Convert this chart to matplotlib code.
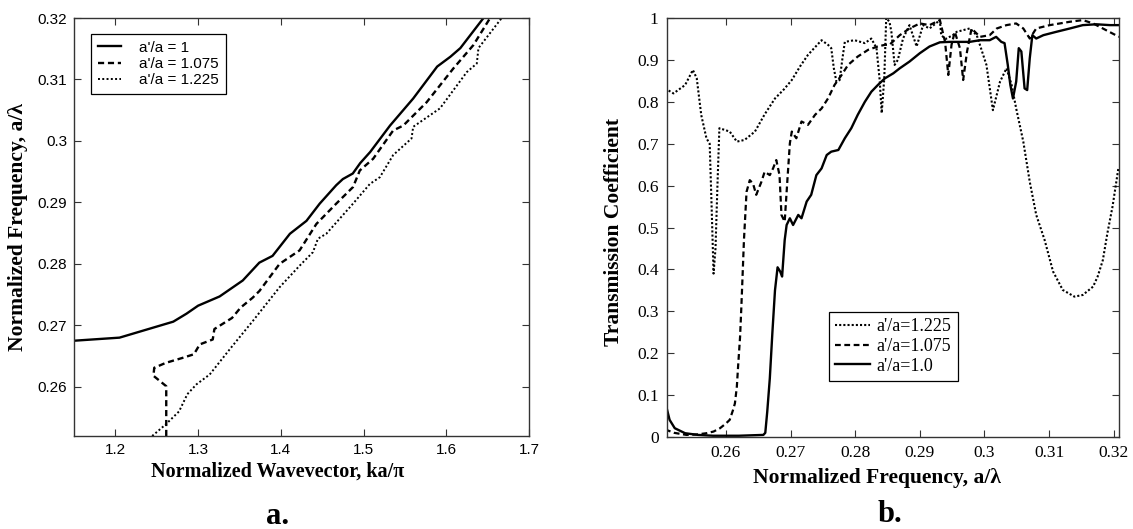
import numpy as np
import matplotlib.pyplot as plt

# ---- panel a: dispersion curves (normalized wavevector vs frequency) ----
k_10 = [1.15, 1.205, 1.27, 1.286, 1.30, 1.326, 1.354, 1.374, 1.390, 1.411,
        1.431, 1.447, 1.467, 1.475, 1.487, 1.496, 1.508, 1.532, 1.560, 1.589,
        1.605, 1.617, 1.629, 1.645]
f_10 = [0.2675, 0.268, 0.2706, 0.2719, 0.2732, 0.2747, 0.2773, 0.2802, 0.2813, 0.2849,
        0.2870, 0.2898, 0.2928, 0.2938, 0.2947, 0.2964, 0.2982, 0.3025, 0.3069, 0.3121,
        0.3137, 0.3151, 0.3172, 0.32]

k_1075 = [1.2615, 1.2615, 1.246, 1.247, 1.261, 1.281, 1.295, 1.302, 1.3177, 1.3197,
          1.341, 1.3515, 1.366, 1.3742, 1.3985, 1.4227, 1.443, 1.467, 1.4873, 1.4955,
          1.5116, 1.5358, 1.548, 1.5763, 1.6086, 1.6328, 1.653]
f_1075 = [0.252, 0.2601, 0.2618, 0.2631, 0.2639, 0.2647, 0.2653, 0.2669, 0.2677, 0.2694,
          0.2712, 0.2729, 0.2745, 0.2756, 0.280, 0.2822, 0.2865, 0.2898, 0.2925, 0.2952,
          0.2971, 0.3017, 0.3025, 0.3063, 0.3118, 0.3156, 0.32]

k_1225 = [1.2445, 1.261, 1.277, 1.287, 1.298, 1.314, 1.340, 1.3661, 1.3985, 1.4227,
          1.4388, 1.4449, 1.455, 1.4873, 1.5076, 1.5197, 1.5358, 1.558, 1.560, 1.5924,
          1.6248, 1.6369, 1.6389, 1.667]
f_1225 = [0.252, 0.2539, 0.256, 0.2588, 0.2604, 0.262, 0.2664, 0.2707, 0.2762, 0.2797,
          0.2819, 0.2841, 0.2849, 0.2898, 0.2930, 0.2941, 0.2977, 0.3004, 0.3023, 0.3053,
          0.3112, 0.3126, 0.3151, 0.32]

# ---- panel b: transmission spectra ----
x_1225 = [0.2506, 0.2519, 0.2537, 0.2549, 0.2555, 0.2562, 0.2570, 0.2575, 0.2578, 0.2581,
          0.2584, 0.2587, 0.2590, 0.2598, 0.2606, 0.2617, 0.2629, 0.2645, 0.2660, 0.2676,
          0.2690, 0.2702, 0.2715, 0.2727, 0.2748, 0.2758, 0.2763, 0.2767, 0.2771, 0.2776,
          0.2780, 0.2784, 0.2799, 0.2815, 0.2825, 0.2833, 0.2838, 0.2841, 0.2845, 0.2848,
          0.2853, 0.2856, 0.2861, 0.2866, 0.2874, 0.2884, 0.2895, 0.2905, 0.2915, 0.2931,
          0.2933, 0.2940, 0.2951, 0.2957, 0.2977, 0.2988, 0.3003, 0.3013, 0.3024, 0.3034,
          0.3042, 0.3049, 0.3060, 0.3070, 0.3080, 0.3093, 0.3106, 0.3121, 0.3139, 0.3152,
          0.3168, 0.3175, 0.3183, 0.3190, 0.3198, 0.3207]
t_1225 = [0.832, 0.820, 0.840, 0.876, 0.856, 0.768, 0.713, 0.700, 0.55, 0.39,
          0.45, 0.60, 0.737, 0.733, 0.729, 0.705, 0.709, 0.729, 0.77, 0.808,
          0.830, 0.852, 0.885, 0.912, 0.947, 0.936, 0.928, 0.88, 0.848, 0.852,
          0.90, 0.943, 0.947, 0.940, 0.951, 0.928, 0.85, 0.773, 0.856, 1.0,
          0.991, 0.967, 0.888, 0.90, 0.951, 0.983, 0.932, 0.983, 0.975, 0.995,
          0.959, 0.95, 0.959, 0.967, 0.975, 0.959, 0.888, 0.780, 0.848, 0.880,
          0.84, 0.784, 0.705, 0.609, 0.530, 0.47, 0.395, 0.351, 0.335, 0.339,
          0.359, 0.383, 0.422, 0.486, 0.55, 0.641]

x_1075 = [0.2506, 0.2520, 0.2539, 0.2555, 0.2570, 0.2581, 0.2591, 0.2600, 0.2606, 0.2611,
          0.2614, 0.2617, 0.2619, 0.2622, 0.2624, 0.2626, 0.2628, 0.2632, 0.2637, 0.2642,
          0.2647, 0.2655, 0.2660, 0.2668, 0.2673, 0.2678, 0.2683, 0.2686, 0.2691, 0.2695,
          0.2699, 0.2702, 0.2709, 0.2717, 0.2727, 0.2738, 0.2748, 0.2758, 0.2768, 0.2779,
          0.2789, 0.2804, 0.2820, 0.2835, 0.2846, 0.2853, 0.2869, 0.2884, 0.2900, 0.2915,
          0.2931, 0.2939, 0.2944, 0.2949, 0.2954, 0.2962, 0.2967, 0.2973, 0.2980, 0.2993,
          0.3008, 0.3019, 0.3034, 0.3049, 0.3060, 0.3070, 0.3080, 0.3101, 0.3132, 0.3152,
          0.3168, 0.3188, 0.3208]
t_1075 = [0.018, 0.010, 0.005, 0.006, 0.009, 0.013, 0.021, 0.032, 0.041, 0.064,
          0.08, 0.12, 0.17, 0.239, 0.311, 0.39, 0.47, 0.585, 0.613, 0.605,
          0.578, 0.609, 0.633, 0.625, 0.641, 0.661, 0.625, 0.530, 0.514, 0.609,
          0.701, 0.729, 0.713, 0.753, 0.745, 0.769, 0.784, 0.808, 0.840, 0.864,
          0.888, 0.908, 0.924, 0.932, 0.936, 0.936, 0.959, 0.975, 0.987, 0.983,
          0.995, 0.943, 0.864, 0.936, 0.967, 0.928, 0.852, 0.920, 0.975, 0.955,
          0.959, 0.975, 0.983, 0.987, 0.975, 0.951, 0.975, 0.983, 0.991, 0.995,
          0.987, 0.971, 0.955]

x_10 = [0.2506, 0.2508, 0.2513, 0.2521, 0.2537, 0.2557, 0.2580, 0.2620, 0.2658, 0.2661,
        0.2664, 0.2668, 0.2672, 0.2676, 0.2680, 0.2684, 0.2687, 0.2691, 0.2694, 0.2699,
        0.2704, 0.2712, 0.2717, 0.2725, 0.2732, 0.2740, 0.2748, 0.2756, 0.2763, 0.2774,
        0.2784, 0.2794, 0.2804, 0.2815, 0.2825, 0.2835, 0.2846, 0.2859, 0.2869, 0.2884,
        0.2900, 0.2915, 0.2931, 0.2946, 0.2962, 0.2977, 0.2993, 0.3008, 0.3018, 0.3026,
        0.3031, 0.3036, 0.3040, 0.3044, 0.3049, 0.3053, 0.3057, 0.3062, 0.3066, 0.3070,
        0.3074, 0.3080, 0.3091, 0.3111, 0.3132, 0.3152, 0.3173, 0.3194, 0.3208]
t_10 = [0.08, 0.072, 0.041, 0.021, 0.009, 0.005, 0.003, 0.003, 0.005, 0.01,
        0.06, 0.14, 0.25, 0.35, 0.405, 0.395, 0.383, 0.470, 0.506, 0.522,
        0.506, 0.530, 0.522, 0.562, 0.578, 0.625, 0.641, 0.673, 0.681, 0.685,
        0.713, 0.737, 0.769, 0.800, 0.824, 0.840, 0.856, 0.868, 0.880, 0.896,
        0.916, 0.932, 0.942, 0.943, 0.943, 0.943, 0.947, 0.947, 0.955, 0.943,
        0.940, 0.888, 0.84, 0.808, 0.848, 0.928, 0.920, 0.832, 0.828, 0.904,
        0.959, 0.951, 0.959, 0.967, 0.975, 0.983, 0.985, 0.983, 0.983]

W, H = 1133, 529
fig = plt.figure(figsize=(W / 100, H / 100), dpi=100)

SANS = 'Liberation Sans'
SERIF = 'Liberation Serif'
dash = (0, (2.6, 1.6))
dot = (0, (1, 1.2))
spine_c = '#333333'

# 繪製 panel a
ax1 = fig.add_axes([74 / W, 1 - 436 / H, 455 / W, 418 / H])
ax1.plot(k_10, f_10, color='black', lw=1.7, ls='-', label="a'/a = 1")
ax1.plot(k_1075, f_1075, color='black', lw=1.7, ls=dash, label="a'/a = 1.075")
ax1.plot(k_1225, f_1225, color='black', lw=1.4, ls=dot, label="a'/a = 1.225")
ax1.set_xlim(1.15, 1.7)
ax1.set_ylim(0.252, 0.32)
ax1.set_xticks([1.2, 1.3, 1.4, 1.5, 1.6, 1.7])
ax1.set_yticks([0.26, 0.27, 0.28, 0.29, 0.3, 0.31, 0.32])
ax1.xaxis.set_major_formatter(plt.FormatStrFormatter('%g'))
ax1.yaxis.set_major_formatter(plt.FormatStrFormatter('%g'))
for lab in ax1.get_xticklabels() + ax1.get_yticklabels():
    lab.set_family(SANS)
    lab.set_fontsize(11)
ax1.tick_params(direction='in', top=True, right=True, length=5, width=0.8,
                color=spine_c, pad=5)
leg1 = ax1.legend(loc='upper left', bbox_to_anchor=(0.037, 0.962), frameon=True,
                  fancybox=False, edgecolor='black', framealpha=1,
                  prop={'family': SANS, 'size': 11}, handlelength=1.5,
                  handletextpad=1.2, labelspacing=0.15, borderpad=0.45,
                  borderaxespad=0)
leg1.get_frame().set_linewidth(0.9)
ax1.set_xlabel('Normalized Wavevector, ka/π', family=SERIF, weight='bold',
               fontsize=14.5, va='center')
ax1.xaxis.set_label_coords((278 - 74) / 455, (436 - 472) / 418)
ax1.set_ylabel('Normalized Frequency, a/λ', family=SERIF, weight='bold',
               fontsize=15.5, va='center')
ax1.yaxis.set_label_coords((18 - 74) / 455, 0.5)

# 繪製 panel b
ax2 = fig.add_axes([667 / W, 1 - 437 / H, 452 / W, 419 / H])
ax2.plot(x_1225, t_1225, color='black', lw=1.5, ls=(0, (1, 1)), label="a'/a=1.225")
ax2.plot(x_1075, t_1075, color='black', lw=1.6, ls=dash, label="a'/a=1.075")
ax2.plot(x_10, t_10, color='black', lw=1.7, ls='-', label="a'/a=1.0")
ax2.set_xlim(0.2509, 0.3208)
ax2.set_ylim(0, 1)
ax2.set_xticks([0.26, 0.27, 0.28, 0.29, 0.3, 0.31, 0.32])
ax2.set_yticks(np.arange(0, 1.01, 0.1))
ax2.xaxis.set_major_formatter(plt.FormatStrFormatter('%g'))
ax2.yaxis.set_major_formatter(plt.FormatStrFormatter('%g'))
for lab in ax2.get_xticklabels() + ax2.get_yticklabels():
    lab.set_family(SERIF)
    lab.set_fontsize(12.5)
ax2.tick_params(direction='in', top=True, right=True, length=5, width=0.8,
                color=spine_c, pad=6)
leg2 = ax2.legend(loc='upper left', bbox_to_anchor=((829 - 667) / 452, (437 - 312) / 419),
                  frameon=True, fancybox=False, edgecolor='black', framealpha=1,
                  prop={'family': SERIF, 'size': 13}, handlelength=1.9,
                  handletextpad=0.4, labelspacing=0.15, borderpad=0.35,
                  borderaxespad=0)
leg2.get_frame().set_linewidth(0.9)
ax2.set_xlabel('Normalized Frequency, a/λ', family=SERIF, weight='bold',
               fontsize=15.5, va='center')
ax2.xaxis.set_label_coords((877 - 667) / 452, (437 - 478) / 419)
ax2.set_ylabel('Transmission Coefficient', family=SERIF, weight='bold',
               fontsize=15.5, va='center')
ax2.yaxis.set_label_coords((614 - 667) / 452, 0.49)

for ax in (ax1, ax2):
    for sp in ax.spines.values():
        sp.set_color(spine_c)
        sp.set_linewidth(1.0)

fig.text(278 / W, 1 - 516 / H, 'a.', family=SERIF, weight='bold', fontsize=22,
         ha='center', va='center')
fig.text(890 / W, 1 - 514 / H, 'b.', family=SERIF, weight='bold', fontsize=22,
         ha='center', va='center')

fig.savefig('out.png', dpi=100)
